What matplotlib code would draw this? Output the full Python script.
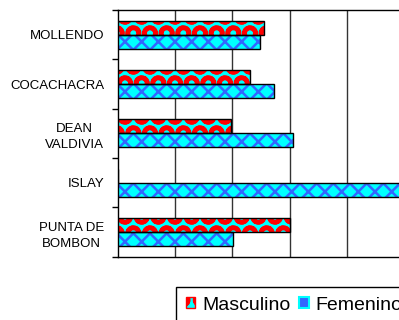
import matplotlib.pyplot as plt
import matplotlib.patches as mpatches
import numpy as np

plt.rcParams['font.family'] = ['Liberation Sans', 'DejaVu Sans']

# datos (escala: 10 por linea de cuadricula)
distritos = ['MOLLENDO', 'COCACHACRA', 'DEAN\nVALDIVIA', 'ISLAY', 'PUNTA DE\nBOMBON']
masculino = [25.6, 23.0, 19.7, 0.0, 30.1]
femenino = [24.9, 27.3, 30.6, 60.0, 20.1]

fig = plt.figure(figsize=(3.99, 3.2), dpi=100)
ax = fig.add_axes([117.5 / 399, 1 - 256.7 / 320, 287 / 399, 246.7 / 320])

y = np.arange(len(distritos))
h = 0.285

# masculino: cian con circulos rojos
plt.rcParams['hatch.linewidth'] = 3.2
ax.barh(y - h / 2, masculino, height=h, color='cyan', edgecolor='red',
        hatch='O', linewidth=0, zorder=3)
ax.barh(y - h / 2, masculino, height=h, color='none', edgecolor='black',
        linewidth=1, zorder=4)
# femenino: cian con rombos azules
plt.rcParams['hatch.linewidth'] = 1.8
ax.barh(y + h / 2, femenino, height=h, color='cyan', edgecolor='#3366ff',
        hatch='xx', linewidth=0, zorder=3)
ax.barh(y + h / 2, femenino, height=h, color='none', edgecolor='black',
        linewidth=1, zorder=4)

ax.set_xlim(0, 50)
ax.set_ylim(len(distritos) - 0.5, -0.5)
ax.set_xticks([10, 20, 30, 40])
ax.tick_params(axis='x', length=0, labelbottom=False)
ax.xaxis.grid(True, color='#333333', linewidth=1, zorder=1)

ax.set_yticks(y)
ax.set_yticklabels(distritos, fontsize=9.5, linespacing=1.45,
                   multialignment='center')
ax.set_yticks(np.arange(len(distritos) + 1) - 0.5, minor=True)
ax.tick_params(axis='y', which='major', length=0, pad=9.5)
ax.tick_params(axis='y', which='minor', length=4, width=1, color='black')

for s in ['top', 'bottom', 'left']:
    ax.spines[s].set_color('black')
    ax.spines[s].set_linewidth(1)
ax.spines['right'].set_visible(False)

plt.rcParams['hatch.linewidth'] = 2.0
h1 = mpatches.Patch(facecolor='cyan', edgecolor='red', hatch='O')
h2 = mpatches.Patch(facecolor='#3366ff', edgecolor='cyan', linewidth=1.5)
leg = fig.legend([h1, h2], ['Masculino', 'Femenino'], ncol=2,
                 loc='upper left', bbox_to_anchor=(176 / 399, 1 - 287 / 320),
                 borderaxespad=0, fontsize=14, fancybox=False,
                 edgecolor='black', framealpha=1, handlelength=0.5,
                 handleheight=0.5, handletextpad=0.35, columnspacing=0.45,
                 borderpad=0.5)
leg.get_frame().set_linewidth(1)

fig.savefig('out.png', dpi=100)
